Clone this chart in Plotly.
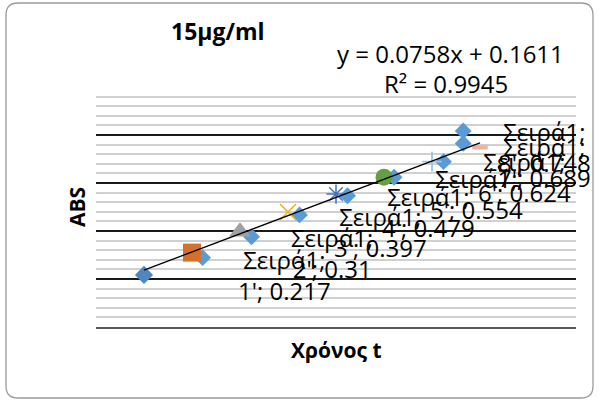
import numpy as np
import plotly.graph_objects as go

# ---- data ----
series_name = "Σειρά1"
times = [1, 2, 3, 4, 5, 6, 7, 8]
time_labels = ["1'", "2'", "3'", "4'", "5'", "6'", "7'", "8'"]
abs_values = [0.217, 0.31, 0.397, 0.479, 0.554, 0.624, 0.689, 0.748]
# extra blue diamonds visible in the picture
extra_x = [2.22, 3.24, 4.24, 5.24, 6.21, 7.24, 7.65, 7.65]
extra_y = [0.289, 0.376, 0.467, 0.547, 0.624, 0.689, 0.765, 0.817]

# ---- styles ----
marker_symbols = ["diamond", "square", "triangle-up", "x-thin-open",
                  "asterisk-open", "circle", "cross-thin-open", "line-ew-open"]
marker_colors = ["#4F86C0", "#D4702C", "#A0A0A0", "#F0B400",
                 "#4472C4", "#62A040", "#9DC3E6", "#F4B09A"]
marker_sizes = [14, 18, 19, 16, 16, 17, 14, 11]
marker_lw = [0, 0, 0, 1.5, 1.5, 0, 1.8, 4]
FONT = "Open Sans"

W, H = 599, 411
L, R, T, B = 96, 576, 87, 327  # plot area in px

slope, intercept = np.polyfit(times, abs_values, 1)
ss_res = sum((y - (slope * x + intercept)) ** 2 for x, y in zip(times, abs_values))
mean_y = np.mean(abs_values)
ss_tot = sum((y - mean_y) ** 2 for y in abs_values)
r2 = 1 - ss_res / ss_tot

fig = go.Figure()

fig.add_trace(go.Scatter(
    x=extra_x, y=extra_y, mode="markers",
    marker=dict(symbol="diamond", size=13, color="#5B9BD5", line=dict(width=0)),
    showlegend=False, hoverinfo="skip"))

for i in range(len(times)):
    fig.add_trace(go.Scatter(
        x=[times[i]], y=[abs_values[i]], mode="markers",
        marker=dict(symbol=marker_symbols[i], size=marker_sizes[i],
                    color=marker_colors[i],
                    line=dict(width=marker_lw[i], color=marker_colors[i])),
        name=series_name, showlegend=False))

tx = [times[0], times[-1]]
fig.add_trace(go.Scatter(
    x=tx, y=[slope * v + intercept for v in tx], mode="lines",
    line=dict(color="black", width=1.3), showlegend=False, hoverinfo="skip"))

annotations = []
label_offset = 2.92
label_max_x = 9.35
for t, lab, v in zip(times, time_labels, abs_values):
    annotations.append(dict(
        x=min(t + label_offset, label_max_x), y=v, xref="x", yref="y",
        text=f"{series_name};<br>{lab}; {v}", showarrow=False,
        xanchor="center", yanchor="middle", align="center",
        font=dict(family=FONT, size=24, color="black")))


def px2paper(px, py):
    return (px - L) / (R - L), (B - py) / (B - T)


ex, ey = px2paper(450, 53)
annotations.append(dict(x=ex, y=ey, xref="paper", yref="paper", showarrow=False,
                        text=f"y = {slope:.4f}x + {intercept:.4f}",
                        xanchor="center", yanchor="middle",
                        font=dict(family=FONT, size=24, color="black")))
rx, ry = px2paper(446, 83)
annotations.append(dict(x=rx, y=ry, xref="paper", yref="paper", showarrow=False,
                        text=f"R² = {r2:.4f}", xanchor="center", yanchor="middle",
                        font=dict(family=FONT, size=24, color="black")))
tx_, ty_ = px2paper(218, 31)
annotations.append(dict(x=tx_, y=ty_, xref="paper", yref="paper", showarrow=False,
                        text="<b>15µg/ml</b>", xanchor="center", yanchor="middle",
                        font=dict(family=FONT, size=23, color="black")))
ax_, ay_ = px2paper(77, 207)
annotations.append(dict(x=ax_, y=ay_, xref="paper", yref="paper", showarrow=False,
                        text="<b>ABS</b>", textangle=-90, xanchor="center", yanchor="middle",
                        font=dict(family=FONT, size=21, color="black")))
xx_, xy_ = px2paper(336, 350)
annotations.append(dict(x=xx_, y=xy_, xref="paper", yref="paper", showarrow=False,
                        text="<b>Χρόνος t</b>", xanchor="center", yanchor="middle",
                        font=dict(family=FONT, size=21, color="black")))

# rounded chart border
x0, y0 = px2paper(6, 3)
x1, y1 = px2paper(593, 398)
rpx = 12
rxp, ryp = rpx / (R - L), rpx / (B - T)
path = (f"M {x0+rxp},{y0} L {x1-rxp},{y0} Q {x1},{y0} {x1},{y0-ryp} "
        f"L {x1},{y1+ryp} Q {x1},{y1} {x1-rxp},{y1} L {x0+rxp},{y1} "
        f"Q {x0},{y1} {x0},{y1+ryp} L {x0},{y0-ryp} Q {x0},{y0} {x0+rxp},{y0} Z")

fig.update_layout(
    width=W, height=H,
    margin=dict(l=L, r=W - R, t=T, b=H - B),
    paper_bgcolor="white", plot_bgcolor="white",
    showlegend=False,
    annotations=annotations,
    shapes=[dict(type="path", path=path, xref="paper", yref="paper",
                 line=dict(color="#9a9a9a", width=1.3), layer="below")],
    xaxis=dict(range=[0, 10], showgrid=False, zeroline=False, showticklabels=False,
               ticks="", showline=False, fixedrange=True),
    yaxis=dict(range=[0, 1], dtick=0.2, showgrid=True, gridcolor="#1a1a1a", gridwidth=1.5,
               zeroline=False, showticklabels=False, ticks="",
               minor=dict(dtick=0.04, showgrid=True, gridcolor="#d0d0d0", gridwidth=1.5),
               showline=True, linecolor="#595959", linewidth=1.5, mirror=False,
               fixedrange=True),
)
fig.update_xaxes(showline=True, linecolor="#595959", linewidth=1.5, side="bottom")
fig.update_yaxes(showline=False)

fig.write_html("out.html", config={"displayModeBar": False},
               post_script="document.body.style.margin='0';document.body.style.overflow='hidden';")
